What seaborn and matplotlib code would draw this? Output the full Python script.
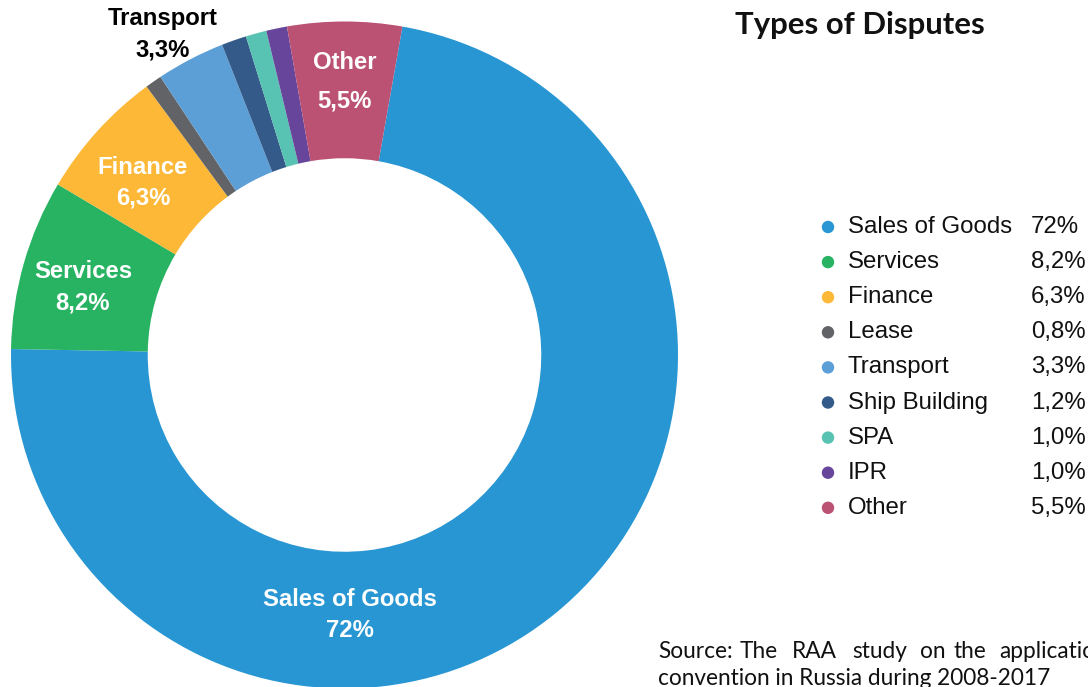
import numpy as np
import pandas as pd
import matplotlib
matplotlib.use("Agg")
import matplotlib.pyplot as plt
import seaborn as sns

categories = ["Sales of Goods", "Services", "Finance", "Lease", "Transport",
              "Ship Building", "SPA", "IPR", "Other"]
shares = [72.0, 8.2, 6.3, 0.8, 3.3, 1.2, 1.0, 1.0, 5.5]
value_labels = ["72%", "8,2%", "6,3%", "0,8%", "3,3%", "1,2%", "1,0%", "1,0%", "5,5%"]
colors = ["#2796D3", "#27B362", "#FCB836", "#616366", "#5C9FD6",
          "#345A89", "#58C2B3", "#66459B", "#BB5173"]
labelled = ["Sales of Goods", "Services", "Finance", "Transport", "Other"]
title = "Types of Disputes"
source_line1 = ["Source:", "The", "RAA", "study", "on", "the", "application"]
source_line2 = "convention in Russia during 2008-2017"

sns.set_theme(style="white")
plt.rcParams["font.family"] = ["Liberation Sans", "DejaVu Sans"]

W, H = 1088, 687
fig = plt.figure(figsize=(W / 100, H / 100), dpi=100)

# donut axes: centre (344.5, 355) px from top-left, radius 333.5 px
cx, cy, R = 344.5, 355, 333.5
ax = fig.add_axes([(cx - R) / W, (H - cy - R) / H, 2 * R / W, 2 * R / H])
ring = 0.41
wedges, _ = ax.pie(shares, colors=colors, startangle=80, counterclock=False,
                   radius=1.0, wedgeprops=dict(width=ring, linewidth=0))
ax.set_xlim(-1, 1)
ax.set_ylim(-1, 1)
ax.set_aspect("equal")
ax.axis("off")

for w, name, val in zip(wedges, categories, value_labels):
    if name not in labelled:
        continue
    ang = np.deg2rad((w.theta1 + w.theta2) / 2)
    r = 0.8
    col = "white"
    ls = 1.45
    if name == "Sales of Goods":
        ang = np.deg2rad(-88.7)
        r = 0.78
    elif name == "Transport":
        ang = np.deg2rad(119.5)
        r = 1.105
        col = "black"
    elif name == "Other":
        r = 0.82
        ls = 1.85
    elif name == "Services":
        ang = np.deg2rad(165.5)
        r = 0.81
    elif name == "Finance":
        ang = np.deg2rad(139.5)
        r = 0.795
    ax.text(r * np.cos(ang), r * np.sin(ang), f"{name}\n{val}", ha="center",
            va="center", color=col, fontsize=17.2, fontweight="bold",
            linespacing=ls, family=["Liberation Sans", "DejaVu Sans"])

# legend axes
top_px, row_h = 227, 35.1
n = len(categories)
lax = fig.add_axes([800 / W, 1 - (top_px + (n - 0.5) * row_h) / H,
                    288 / W, n * row_h / H])
lax.set_xlim(800, 1088)
lax.set_ylim(n - 0.5, -0.5)
lax.axis("off")
legdf = pd.DataFrame({"cat": categories, "row": np.arange(n), "x": 828.0})
sns.scatterplot(data=legdf, x="x", y="row", hue="cat", palette=colors,
                s=80, linewidth=0, legend=False, ax=lax, clip_on=False)
for i, (name, val) in enumerate(zip(categories, value_labels)):
    lax.text(848, i, name, ha="left", va="center", fontsize=17.3, color="#111111")
    lax.text(1031, i, val, ha="left", va="center", fontsize=17.3, color="#111111")

fig.text(735 / W, 1 - 25 / H, title, ha="left", va="center", fontsize=22.4,
         fontweight="bold", family=["Lato", "DejaVu Sans"], color="#111111")

word_x = [658, 740, 792, 852, 920, 953, 999]
for wx, word in zip(word_x, source_line1):
    fig.text(wx / W, 1 - 658 / H, word, ha="left", va="baseline", fontsize=16.3,
             family=["Lato", "DejaVu Sans"], color="#111111")
fig.text(658 / W, 1 - 685 / H, source_line2, ha="left", va="baseline", fontsize=16.3,
         family=["Lato", "DejaVu Sans"], color="#111111")

fig.savefig("out.png", dpi=100)
